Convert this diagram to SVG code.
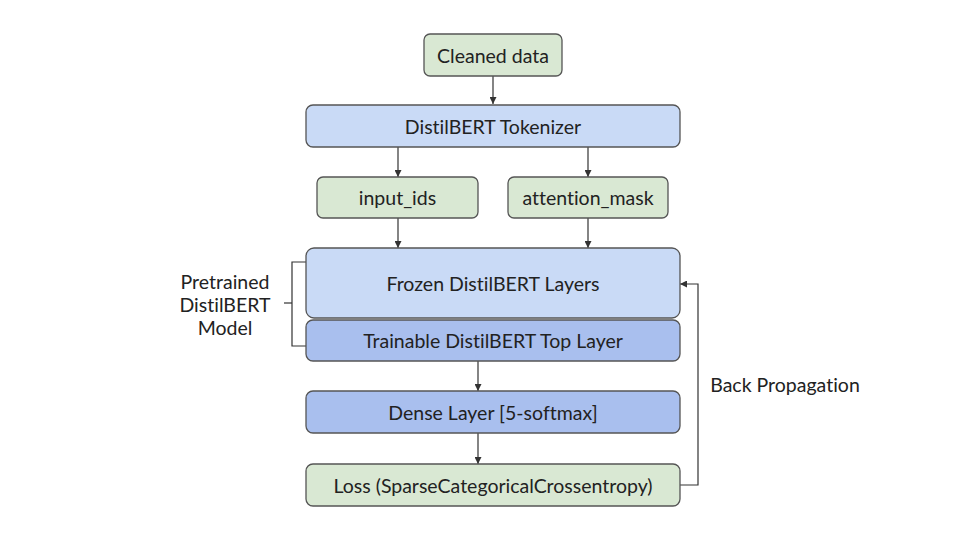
<svg xmlns="http://www.w3.org/2000/svg" width="960" height="540" viewBox="0 0 960 540">
<defs>
<marker id="ah" viewBox="0 0 10 10" refX="10" refY="5" markerWidth="7" markerHeight="7" markerUnits="userSpaceOnUse" orient="auto">
<path d="M0,0 L10,5 L0,10 z" fill="#333"/>
</marker>
<style>
.box{stroke:#555;stroke-width:1.3}
.g{fill:#d9e8d3}
.b1{fill:#c9daf6}
.b2{fill:#a9bfee}
text{font-family:Lato,"Open Sans","Liberation Sans",sans-serif;font-size:19.5px;fill:#222;text-anchor:middle;dominant-baseline:central;font-variant-ligatures:none}
.c{fill:none;stroke:#333;stroke-width:1.2}
</style>
</defs>
<rect width="960" height="540" fill="#fff"/>
<g id="connectors">
<line class="c" x1="493" y1="76" x2="493" y2="104" marker-end="url(#ah)"/>
<line class="c" x1="398" y1="147" x2="398" y2="177" marker-end="url(#ah)"/>
<line class="c" x1="588" y1="147" x2="588" y2="177" marker-end="url(#ah)"/>
<line class="c" x1="398" y1="218" x2="398" y2="248" marker-end="url(#ah)"/>
<line class="c" x1="588" y1="218" x2="588" y2="248" marker-end="url(#ah)"/>
<line class="c" x1="478" y1="361" x2="478" y2="391" marker-end="url(#ah)"/>
<line class="c" x1="478" y1="433" x2="478" y2="464" marker-end="url(#ah)"/>
<polyline class="c" points="680,485 698,485 698,284 680,284" marker-end="url(#ah)"/>
<polyline class="c" points="306,262 292,262 292,346 306,346"/>
<line class="c" x1="284" y1="303" x2="292" y2="303"/>
</g>
<g id="cleaned"><rect class="box g" x="424" y="34" width="138" height="42" rx="6"/><text x="493" y="55">Cleaned data</text></g>
<g id="tokenizer"><rect class="box b1" x="306" y="105" width="374" height="42" rx="7"/><text x="493" y="126">DistilBERT Tokenizer</text></g>
<g id="input_ids"><rect class="box g" x="317" y="177" width="161" height="41" rx="6"/><text x="397.5" y="197.5">input_ids</text></g>
<g id="attention_mask"><rect class="box g" x="508" y="177" width="160" height="41" rx="6"/><text x="588" y="197.5">attention_mask</text></g>
<g id="frozen"><rect class="box b1" x="306" y="248" width="374" height="70" rx="8"/><text x="493" y="283">Frozen DistilBERT Layers</text></g>
<g id="trainable"><rect class="box b2" x="306" y="320" width="374" height="41" rx="7"/><text x="493" y="340.5">Trainable DistilBERT Top Layer</text></g>
<g id="dense"><rect class="box b2" x="306" y="391" width="374" height="42" rx="7"/><text x="493" y="412">Dense Layer [5-softmax]</text></g>
<g id="loss"><rect class="box g" x="306" y="464" width="374" height="42" rx="7"/><text x="493" y="485">Loss (SparseCategoricalCrossentropy)</text></g>
<g id="pretrained"><text x="225" y="281">Pretrained</text><text x="225" y="304">DistilBERT</text><text x="225" y="327">Model</text></g>
<g id="backprop"><text x="785" y="384">Back Propagation</text></g>
</svg>
